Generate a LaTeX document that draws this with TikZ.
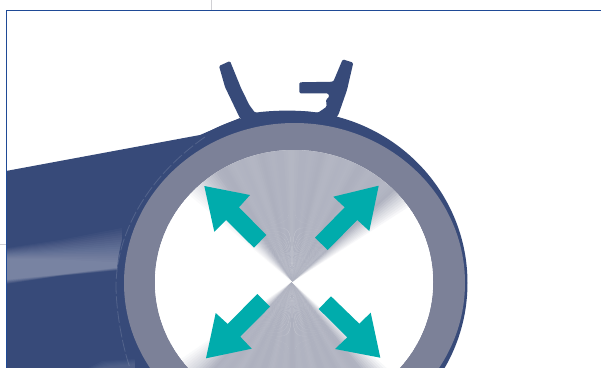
\documentclass[tikz,border=0pt]{standalone}
\usepackage{tikz}
\definecolor{navy}{HTML}{374A79}
\definecolor{ringgrey}{HTML}{7C8198}
\definecolor{conegrey}{HTML}{ADB0BE}
\definecolor{teal2}{HTML}{00ACAC}
\definecolor{framblue}{HTML}{1F4A96}
\definecolor{cropgrey}{HTML}{D0D0D4}
\tikzset{
  bodyfill/.style={fill=navy},
  ringfill/.style={fill=ringgrey},
  flowarrow/.style={fill=teal2},
  framerule/.style={draw=framblue,line width=0.9pt},
  croprule/.style={draw=cropgrey,line width=0.6pt}
}

\begin{document}
\begin{tikzpicture}[x=0.75pt,y=-0.75pt]
\clip (0,0) rectangle (601,368);
\fill[white] (0,0) rectangle (601,368);
\draw[croprule] (211,0) -- (211,10);
\draw[croprule] (0,244) -- (6,244);
% pipe body
\fill[bodyfill] (6,171) -- (200,135) -- (240,118) -- (260,200) -- (240,368) -- (6,368) -- cycle;
\foreach \u in {0,...,15}
  \fill[white,opacity=0.026] (7,{248+0.7*\u}) -- (60,{240+1.3*\u}) -- (122,{228+2.3*\u}) -- (122,{270-0.2*\u}) -- (60,{276-0.1*\u}) -- (7,{284-0.3*\u}) -- cycle;
\foreach \u in {0,...,5}
  \fill[white,opacity=0.025] ({88+\u*2},368) -- ({102+\u*2},{361+\u}) -- (135,{359+\u}) -- (135,368) -- cycle;
% seal lips
\fill[bodyfill,rounded corners=1pt] (219,66) -- (230,61) -- (241,88) -- (249.3,105) -- (255,112.7)
  .. controls (275,110) and (300,110) .. (318,112.7) -- (326.7,106.7) -- (326,99.3)
  -- (329.3,97.3) -- (328.3,93.3) -- (299.3,93.3) -- (299.3,82.3) -- (333.3,81.7)
  -- (342.7,59.3) -- (353.3,62.7) -- (347,90) -- (338.3,115) -- (330,125) -- (255,125) -- (240,118.3)
  -- (225,87) -- cycle;
% rings
\fill[bodyfill] (292,283) ellipse [x radius=175.5,y radius=172];
\draw[white,opacity=0.14,line width=0.6pt,dash pattern=on 9pt off 2pt]
  (205,137) .. controls (150,175) and (117,230) .. (116,285) .. controls (116,310) and (122,345) .. (130,368);
\fill[ringfill] (294.5,283) ellipse [x radius=170.5,y radius=160];
\fill[white] (294,282) ellipse [x radius=139,y radius=132];
% brushed cone
\begin{scope}
\clip (294,282) ellipse [x radius=139,y radius=132];
\foreach \a in {0,...,359} {
  \pgfmathsetmacro\shade{100*(max(min((\a-32)/10,(140-\a)/16,1),min((\a-214)/14,(318-\a)/10,1),0))*(1-0.025*(1+sin(41*\a))-0.02*(1+sin(17*\a)))}
  \fill[conegrey!\shade!white] (292,282) -- +({220*cos(\a-0.2)},{-220*sin(\a-0.2)}) -- +({220*cos(\a+1.2)},{-220*sin(\a+1.2)}) -- cycle;
}
\end{scope}
% flow arrows
\fill[flowarrow] (204.3,186) -- (250,195) -- (239,207.3) -- (266.3,235) -- (254,247.7) -- (226,220) -- (214.3,231.7) -- cycle;
\fill[flowarrow] (378.7,185.7) -- (369.3,231) -- (357.3,220) -- (327.7,250) -- (315,237.7) -- (344.7,207.3) -- (333.3,196.7) -- cycle;
\fill[flowarrow] (206,358.3) -- (215.7,313) -- (227.7,324) -- (257.3,294) -- (270,306.7) -- (240.3,336.7) -- (251.7,348.7) -- cycle;
\fill[flowarrow] (380.3,357.7) -- (370.7,312.7) -- (359.3,323.7) -- (331,296.3) -- (318.7,309) -- (347.3,337.3) -- (335,349) -- cycle;
% frame
\draw[framerule] (601,10.5) -- (6.5,10.5) -- (6.5,368);
\end{tikzpicture}
\end{document}
